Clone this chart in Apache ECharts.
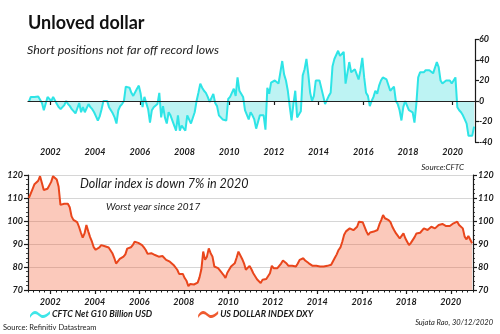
<!DOCTYPE html>
<html>
<head>
<meta charset="utf-8">
<script src="https://cdn.jsdelivr.net/npm/echarts@6/dist/echarts.min.js"></script>
<style>
  html, body { margin: 0; padding: 0; background: #fff; }
  #chart { width: 500px; height: 334px; }
</style>
</head>
<body>
<div id="chart"></div>
<script>
// Monthly series, January 2001 to December 2020
const startYear = 2001;
const yearTicks = [2002, 2004, 2006, 2008, 2010, 2012, 2014, 2016, 2018, 2020];

// CFTC net G10 positioning against the dollar, billion USD
const cftcNet = [
  -0.5, 4, 5, 4, 5, 4.5, 4.5, -2, -9, -8, 4, 4,
  0, 4, 5, -3, -6, -8, -6, -4, 0, -3, -5, -8,
  -9, -12, -13, -2, -11, -6, -11, -11, -3, -6, -8, -11,
  -15, -19, -15, -8, 0, 0, 0, -6, -9, -12, -16, -22,
  -9, -5, -3, 0, 14, 13, 13, 8, 5, 5, 12, 15,
  7, -6, 4, 4, -8, -21, -9, -6, -6, -3, 8, -16,
  -5, -16, -22, -11, -14, -14, -24, -29, -14, -29, -24, -24,
  -29, -14, -13, -22, -22, -11, 0, 8, 17, 13, 10, 8,
  4, -1, 3, 7, -2, -5, -14, -16, -18, -19, -19, 2,
  4, 4, 12, 5, 23, 10, 10, 4, -9, -9, -18, -11,
  -14, -18, -27, -27, -14, -14, -14, -28, 13, 7, 18, 18,
  20, 20, 17, 18, 39, 26, 20, 10, -5, -19, -3, 10,
  -16, -16, -10, 25, 31, 41, 26, 8, 0, 5, 20, 20,
  20, 21, 5, -3, -3, 5, 8, 34, 41, 41, 49, 44,
  44, 48, 17, 17, 38, 28, 28, 31, 26, 21, 30, 42,
  23, 8, 5, -5, 0, 4, 10, 7, 15, 20, 23, 23,
  21, 20, 10, 12, 14, 0, -3, -9, -19, -6, 0, 1,
  -9, -9, -11, -21, -3, 23, 28, 28, 28, 30, 31, 30,
  29, 27, 26, 38, 33, 20, 17, 17, 20, 20, 20, 17,
  17, 23, -6, -9, -11, -14, -18, -22, -34, -34, -34, -25
];

// US dollar index (DXY)
const dxy = [
  110, 112, 114, 116, 115.5, 117.5, 119.5, 116.5, 113.5, 113.2, 114, 115.5,
  117, 119.5, 119, 118, 115, 107, 106.5, 107.5, 107.7, 107.5, 106, 102,
  100.5, 99.7, 99.5, 97.5, 95, 92.8, 94.6, 98.3, 95.5, 93, 91, 88.5,
  87.5, 87.4, 88.5, 89.5, 89, 89, 89.2, 88.5, 87.7, 86, 84, 81.5,
  81.5, 83.5, 83.8, 84.5, 85.5, 88, 88.8, 88.6, 89.5, 91, 91.7, 90.5,
  89.8, 89.5, 88.5, 87.4, 85.7, 86, 86, 85.5, 85.2, 85.7, 84.5, 84,
  84.8, 84, 83.1, 82.8, 82.3, 81.5, 80.9, 80.5, 78.8, 77, 76.5, 77,
  75.2, 74, 71.7, 72.6, 72.6, 72.4, 72.2, 73.2, 75.5, 79, 86.7, 83.1,
  84.5, 88.1, 86, 84.5, 80.2, 79.8, 79.5, 78.5, 78, 76.5, 75.2, 77.5,
  78, 80.2, 81, 81.6, 84, 86.7, 86, 83.5, 81.6, 78.8, 79.5, 80.5,
  79, 77.3, 76, 74.7, 74, 73, 74.5, 75.2, 74.8, 74.5, 77.3, 80.5,
  79.5, 79.5, 79.5, 80.5, 81.5, 82.8, 82.3, 81.5, 80.5, 80.3, 80.5, 80.2,
  80.2, 81.5, 83.1, 83, 83.8, 82.8, 82.3, 81.6, 81.2, 80.5, 80.8, 80.5,
  80.5, 80.2, 80, 80.2, 80.2, 80.5, 80.2, 81, 82.5, 84, 85.5, 87.4,
  88.5, 91, 94, 95.5, 95, 96.8, 96.5, 96, 96.1, 97.5, 99.7, 99.2,
  99.5, 99.7, 95.5, 93.9, 95, 95.4, 95.4, 95.8, 96.1, 98.5, 100.4, 102.6,
  101.2, 101, 100.4, 99.5, 97.5, 96, 94.6, 93.5, 92.4, 93.5, 94.6, 92.5,
  91, 89.5, 90.5, 91, 93, 94.6, 94.8, 94.9, 95.5, 96.8, 96.8, 96.1,
  96.5, 97.5, 97, 96.8, 97.5, 98.3, 99, 98.7, 98.3, 97.8, 97.5, 97.8,
  98.3, 99, 99.7, 99.7, 98.3, 97.5, 96.8, 93.2, 92, 93.5, 93.9, 90.3
];

const cftcName = 'CFTC Net G10 Billion USD';
const dxyName = 'US DOLLAR INDEX DXY';

// place each monthly value at mid-month on a decimal-year axis
const toPoints = arr => arr.map((v, i) => [startYear + (i + 0.5) / 12, v]);

// quarterly minor ticks along the lower time axis
const quarterTicks = [];
for (let y = startYear; y <= 2021; y++) {
  for (let q = 0; q < 4; q++) {
    const t = y + q / 4;
    if (t > 2021) break;
    if (!(q === 0 && yearTicks.includes(y))) quarterTicks.push(t);
  }
}

const FONT = 'Lato';
const INK = '#1a1a1a';
const tickLabel = { fontFamily: FONT, fontSize: 9, fontWeight: 'bold', fontStyle: 'italic', color: INK };
const axisLine = { show: true, lineStyle: { color: INK, width: 1.2 } };

const waveIcon = 'path://M0,6 C3,1 6,1 9,4 C12,7 15,7 20,2 L20,5 C15,10 12,10 9,7 C6,4 3,4 0,9 Z';

const chart = echarts.init(document.getElementById('chart'), null, { renderer: 'canvas' });

chart.setOption({
  animation: false,
  backgroundColor: '#fff',
  grid: [
    { left: 28, top: 39.5, width: 447, height: 102.5 },
    { left: 28, top: 175, width: 445, height: 115 }
  ],
  xAxis: [
    {
      gridIndex: 0, type: 'value', min: 2001, max: 2021, position: 'bottom',
      axisLine: axisLine,
      axisTick: { show: true, customValues: yearTicks, length: 4, lineStyle: { color: INK, width: 1.2 } },
      axisLabel: Object.assign({ customValues: yearTicks, margin: 6, formatter: v => String(Math.round(v)) }, tickLabel),
      splitLine: { show: false }
    },
    {
      gridIndex: 1, type: 'value', min: 2001, max: 2021, position: 'bottom',
      axisLine: axisLine,
      axisTick: { show: true, customValues: yearTicks, length: 4, lineStyle: { color: INK, width: 1.2 } },
      axisLabel: Object.assign({ customValues: yearTicks, margin: 8, formatter: v => String(Math.round(v)) }, tickLabel),
      splitLine: { show: false }
    },
    {
      gridIndex: 1, type: 'value', min: 2001, max: 2021, position: 'bottom',
      axisLine: { show: false },
      axisTick: { show: true, customValues: quarterTicks, length: 2.5, lineStyle: { color: INK, width: 1 } },
      axisLabel: { show: false },
      splitLine: { show: false }
    }
  ],
  yAxis: [
    {
      gridIndex: 0, type: 'value', position: 'right', min: -40, max: 60, interval: 20,
      axisLine: axisLine,
      axisTick: { show: true, length: 4, lineStyle: { color: INK, width: 1.2 } },
      axisLabel: Object.assign({ margin: 4 }, tickLabel),
      splitLine: { show: false }
    },
    {
      gridIndex: 1, type: 'value', position: 'left', min: 70, max: 120, interval: 10,
      axisLine: axisLine,
      axisTick: { show: true, length: 4, lineStyle: { color: INK, width: 1.2 } },
      minorTick: { show: true, splitNumber: 5, length: 2, lineStyle: { color: INK, width: 0.8 } },
      axisLabel: Object.assign({ margin: 5 }, tickLabel),
      splitLine: { show: true, lineStyle: { color: '#d6d6d6', width: 1 } }
    },
    {
      gridIndex: 1, type: 'value', position: 'right', min: 70, max: 120, interval: 10,
      axisLine: axisLine,
      axisTick: { show: true, length: 4, lineStyle: { color: INK, width: 1.2 } },
      minorTick: { show: true, splitNumber: 5, length: 2, lineStyle: { color: INK, width: 0.8 } },
      axisLabel: Object.assign({ margin: 5 }, tickLabel),
      splitLine: { show: false }
    }
  ],
  legend: {
    left: 30, top: 310, padding: 0,
    itemWidth: 20, itemHeight: 9, itemGap: 46,
    selectedMode: false,
    textStyle: { fontFamily: FONT, fontSize: 9, fontWeight: 'bold', fontStyle: 'italic', color: INK, padding: [0, 0, 0, -3] },
    data: [
      { name: cftcName, icon: waveIcon, itemStyle: { color: '#3fe6e8' } },
      { name: dxyName, icon: waveIcon, itemStyle: { color: '#ef5a2f' } }
    ]
  },
  series: [
    {
      name: cftcName, type: 'line', xAxisIndex: 0, yAxisIndex: 0,
      data: toPoints(cftcNet),
      showSymbol: false, symbol: 'none',
      lineStyle: { color: '#2ee4e6', width: 2 },
      itemStyle: { color: '#2ee4e6' },
      areaStyle: { color: '#bdf3f3', opacity: 1 },
      markLine: {
        silent: true, symbol: 'none', label: { show: false },
        lineStyle: { color: '#222', width: 1, type: 'solid' },
        data: [{ yAxis: 0 }]
      }
    },
    {
      name: dxyName, type: 'line', xAxisIndex: 1, yAxisIndex: 1,
      data: toPoints(dxy),
      showSymbol: false, symbol: 'none',
      lineStyle: { color: '#e9461c', width: 2 },
      itemStyle: { color: '#e9461c' },
      areaStyle: { color: 'rgba(242,84,42,0.45)', origin: 'start' }
    }
  ],
  graphic: [
    { type: 'text', x: 28, y: 23, style: { text: 'Unloved dollar', font: 'bold 18px Lato', fill: '#111', textVerticalAlign: 'middle' } },
    { type: 'text', x: 27, y: 50, style: { text: 'Short positions not far off record lows', font: 'italic 12.4px Lato', fill: '#222', textVerticalAlign: 'middle' } },
    { type: 'text', x: 464, y: 167, style: { text: 'Source:CFTC', font: 'italic 8px Lato', fill: '#222', textAlign: 'right', textVerticalAlign: 'middle' } },
    { type: 'text', x: 80, y: 184, style: { text: 'Dollar index is down 7% in 2020', font: 'italic 12.5px Lato', fill: '#1a1a1a', textVerticalAlign: 'middle' } },
    { type: 'text', x: 106, y: 207, style: { text: 'Worst year since 2017', font: 'italic 10px Lato', fill: '#1a1a1a', textVerticalAlign: 'middle' } },
    { type: 'text', x: 3, y: 328, style: { text: 'Source: Refinitiv Datastream', font: '7.5px Lato', fill: '#222', textVerticalAlign: 'middle' } },
    { type: 'text', x: 493, y: 323, style: { text: 'Sujata Rao, 30/12/2020', font: 'italic 7.5px Lato', fill: '#222', textAlign: 'right', textVerticalAlign: 'middle' } }
  ]
});
</script>
</body>
</html>
